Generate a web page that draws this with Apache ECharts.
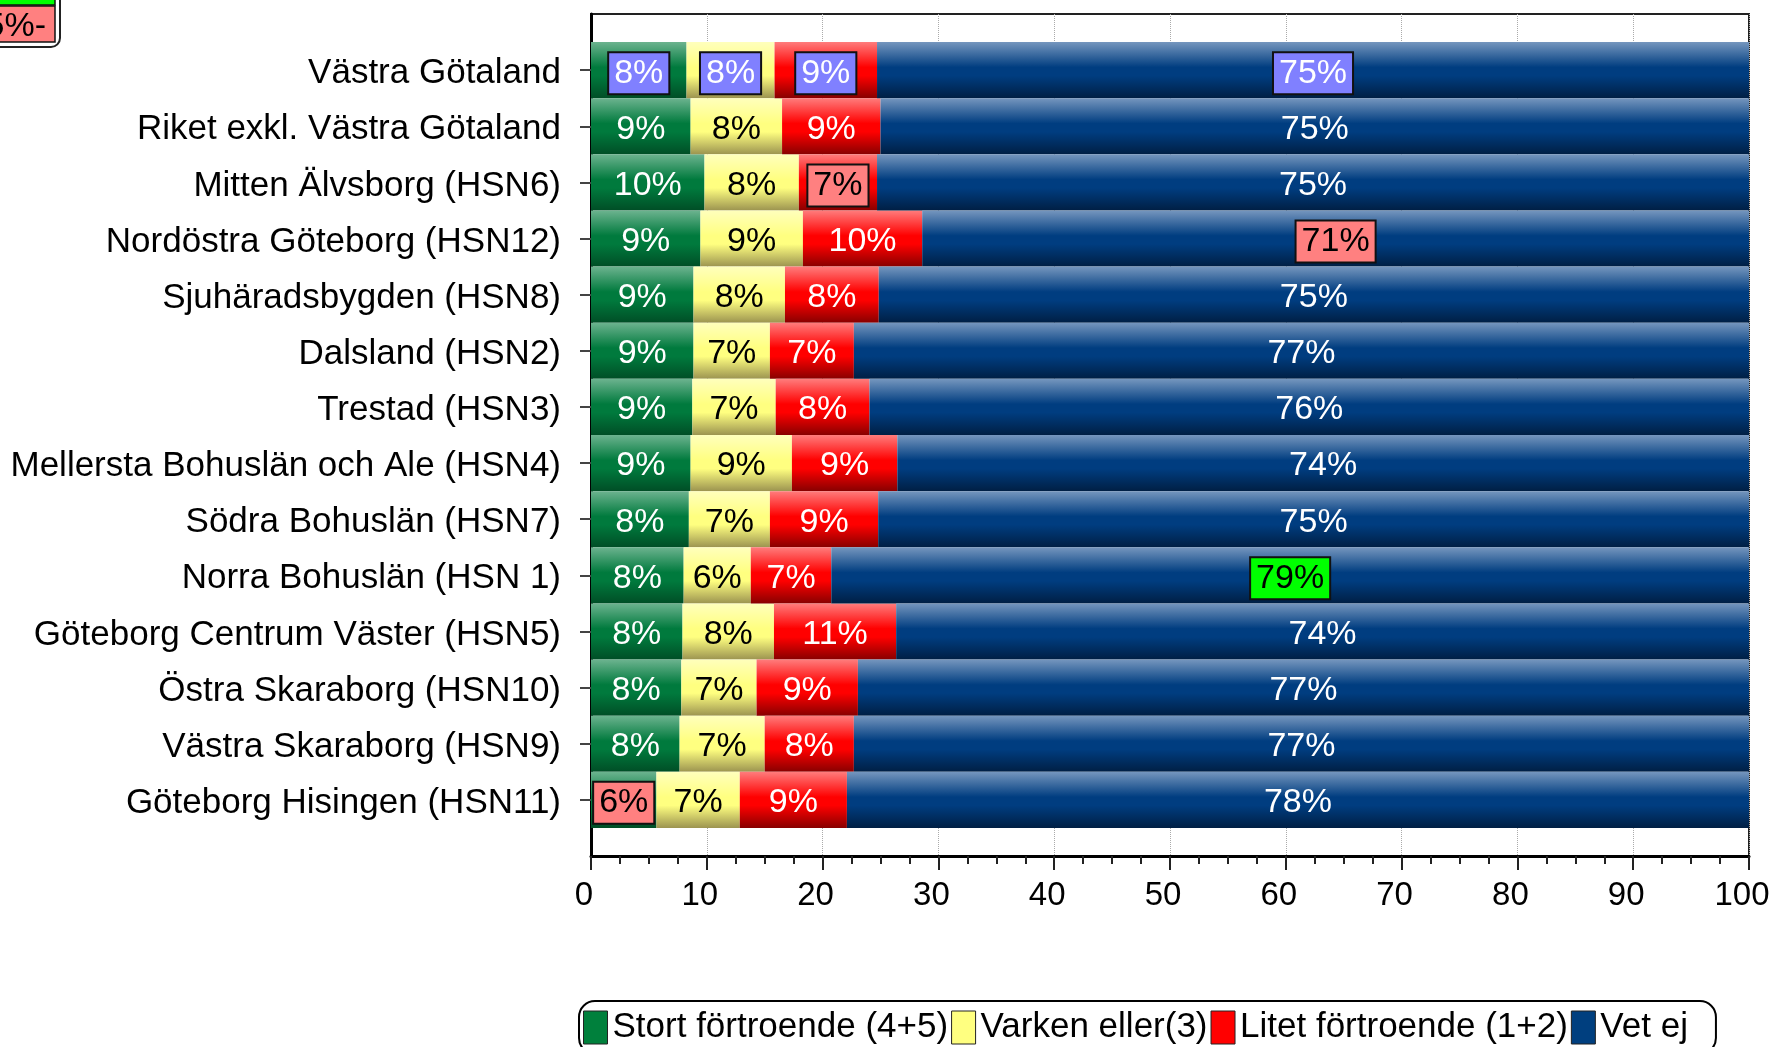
<!DOCTYPE html>
<html>
<head>
<meta charset="utf-8">
<title>Förtroende per område</title>
<script src="https://cdn.jsdelivr.net/npm/echarts@6/dist/echarts.min.js"></script>
<style>
  html, body { margin: 0; padding: 0; background: #fff; }
  #chart { width: 1773px; height: 1047px; }
</style>
</head>
<body>
<div id="chart"></div>
<script>
// kategorier (uppifrån och ned)
const regions = [
  'Västra Götaland',
  'Riket exkl. Västra Götaland',
  'Mitten Älvsborg (HSN6)',
  'Nordöstra Göteborg (HSN12)',
  'Sjuhäradsbygden (HSN8)',
  'Dalsland (HSN2)',
  'Trestad (HSN3)',
  'Mellersta Bohuslän och Ale (HSN4)',
  'Södra Bohuslän (HSN7)',
  'Norra Bohuslän (HSN 1)',
  'Göteborg Centrum Väster (HSN5)',
  'Östra Skaraborg (HSN10)',
  'Västra Skaraborg (HSN9)',
  'Göteborg Hisingen (HSN11)'
]

const seriesNames = ['Stort förtroende (4+5)', 'Varken eller(3)', 'Litet förtroende (1+2)', 'Vet ej']

// andelar i procent
const stort = [8.25, 8.6, 9.8, 9.45, 8.85, 8.85, 8.75, 8.6, 8.45, 8.0, 7.9, 7.8, 7.65, 5.65]
const varken = [7.6, 7.9, 8.15, 8.85, 7.9, 6.6, 7.2, 8.75, 7.0, 5.8, 7.9, 6.5, 7.35, 7.2]
const litet = [8.85, 8.5, 6.75, 10.3, 8.1, 7.25, 8.1, 9.1, 9.35, 6.95, 10.55, 8.75, 7.7, 9.25]
const vetEj = [75.3, 75.0, 75.3, 71.4, 75.15, 77.3, 75.95, 73.55, 75.2, 79.25, 73.65, 76.95, 77.3, 77.9]

const xTicks = [0, 10, 20, 30, 40, 50, 60, 70, 80, 90, 100]

// jämförelseområde och signifikanta skillnader [rad, serie]
const referenceRow = 0
const sigLower = [[2, 2], [3, 3], [13, 0]]
const sigHigher = [[9, 3]]

const FONT = "'Liberation Sans', Arial, sans-serif"

function grad(top, mid, bottom) {
  return new echarts.graphic.LinearGradient(0, 0, 0, 1, [
    { offset: 0, color: top },
    { offset: 0.45, color: mid },
    { offset: 0.6, color: mid },
    { offset: 1, color: bottom }
  ])
}

const fills = [
  grad('#6cb38f', '#007a3d', '#004e26'),
  grad('#ffffbc', '#ffff80', '#9c9450'),
  grad('#ff7c7c', '#ff0000', '#880000'),
  grad('#7596be', '#003d80', '#001f44')
]
const solid = ['#00803c', '#ffff80', '#ff0000', '#003f7f']
const labelColors = ['#fff', '#000', '#fff', '#fff']

const boxLabel = (bg, color) => ({
  backgroundColor: bg,
  borderColor: '#111',
  borderWidth: 2,
  padding: [4, 5, 1, 5],
  color: color
})

function buildData(values, sIdx) {
  const items = values.map((v, row) => {
    let label
    if (row === referenceRow) label = boxLabel('#8080ff', '#fff')
    if (sigLower.some(([r, s]) => r === row && s === sIdx)) label = boxLabel('#ff8080', '#000')
    if (sigHigher.some(([r, s]) => r === row && s === sIdx)) label = boxLabel('#00ff00', '#000')
    return label ? { value: v, label } : v
  })
  // tomma platser ger en halv stapel luft upptill och nedtill
  return [null, ...items, null]
}

const chart = echarts.init(document.getElementById('chart'))

const option = {
  backgroundColor: '#fff',
  animation: false,
  textStyle: { fontFamily: FONT },
  grid: {
    left: 591,
    right: 24,
    top: 14,
    bottom: 191,
    show: true,
    borderColor: '#222',
    borderWidth: 2
  },
  xAxis: {
    type: 'value',
    min: xTicks[0],
    max: xTicks[xTicks.length - 1],
    interval: xTicks[1] - xTicks[0],
    axisLine: { show: true, lineStyle: { color: '#000', width: 3 } },
    axisTick: { show: true, length: 14, lineStyle: { color: '#222', width: 2 } },
    minorTick: { show: true, splitNumber: 4, length: 8, lineStyle: { color: '#222', width: 2 } },
    axisLabel: {
      color: '#000',
      fontSize: 33,
      fontFamily: FONT,
      margin: 23,
      padding: [0, 14, 0, 0]
    },
    splitLine: { show: true, lineStyle: { color: '#aaa', width: 1, type: 'dotted' } }
  },
  yAxis: {
    type: 'category',
    inverse: true,
    boundaryGap: false,
    data: ['', ...regions, ''],
    axisLine: { show: true, lineStyle: { color: '#000', width: 3 } },
    axisTick: {
      show: true,
      length: 11,
      interval: (idx) => idx > 0 && idx <= regions.length,
      lineStyle: { color: '#444', width: 2 }
    },
    axisLabel: {
      color: '#000',
      fontSize: 35,
      fontFamily: FONT,
      margin: 30,
      interval: 0,
      formatter: (v) => (v ? '{n|' + v + '}' : ''),
      rich: {
        n: { fontSize: 35, fontFamily: FONT, color: '#000', padding: [7, 0, 0, 0] }
      }
    },
    splitLine: { show: false }
  },
  legend: {
    left: 579,
    top: 1001,
    orient: 'horizontal',
    itemWidth: 24,
    itemHeight: 33,
    itemGap: 3,
    padding: [9, 28, 9, 4],
    borderColor: '#000',
    borderWidth: 2,
    borderRadius: 16,
    textStyle: { color: '#000', fontSize: 35, fontFamily: FONT },
    data: seriesNames.map((name, i) => ({
      name,
      icon: 'rect',
      itemStyle: { color: solid[i], borderColor: '#222', borderWidth: 1 }
    }))
  },
  graphic: [
    // avklippt teckenförklaring uppe till vänster
    {
      type: 'rect',
      shape: { x: -20, y: -20, width: 80, height: 67, r: 9 },
      style: { fill: '#fff', stroke: '#222', lineWidth: 2 }
    },
    {
      type: 'rect',
      shape: { x: -10, y: -12, width: 65, height: 17 },
      style: { fill: '#00ff00', stroke: '#111', lineWidth: 1.5 }
    },
    {
      type: 'rect',
      shape: { x: -10, y: 6, width: 65, height: 36 },
      style: { fill: '#ff8080', stroke: '#111', lineWidth: 1.5 }
    },
    {
      type: 'text',
      x: 46,
      y: 27,
      style: {
        text: '5%-',
        fill: '#000',
        font: '34px ' + FONT,
        align: 'right',
        verticalAlign: 'middle'
      }
    }
  ],
  series: [stort, varken, litet, vetEj].map((values, i) => ({
    name: seriesNames[i],
    type: 'bar',
    stack: 'total',
    barWidth: '100%',
    data: buildData(values, i),
    itemStyle: { color: fills[i] },
    label: {
      show: true,
      position: 'inside',
      offset: [0, 3],
      color: labelColors[i],
      fontSize: 34,
      fontFamily: FONT,
      lineHeight: 35,
      formatter: (p) => Math.round(p.value) + '%'
    }
  }))
}

chart.setOption(option)
</script>
</body>
</html>
